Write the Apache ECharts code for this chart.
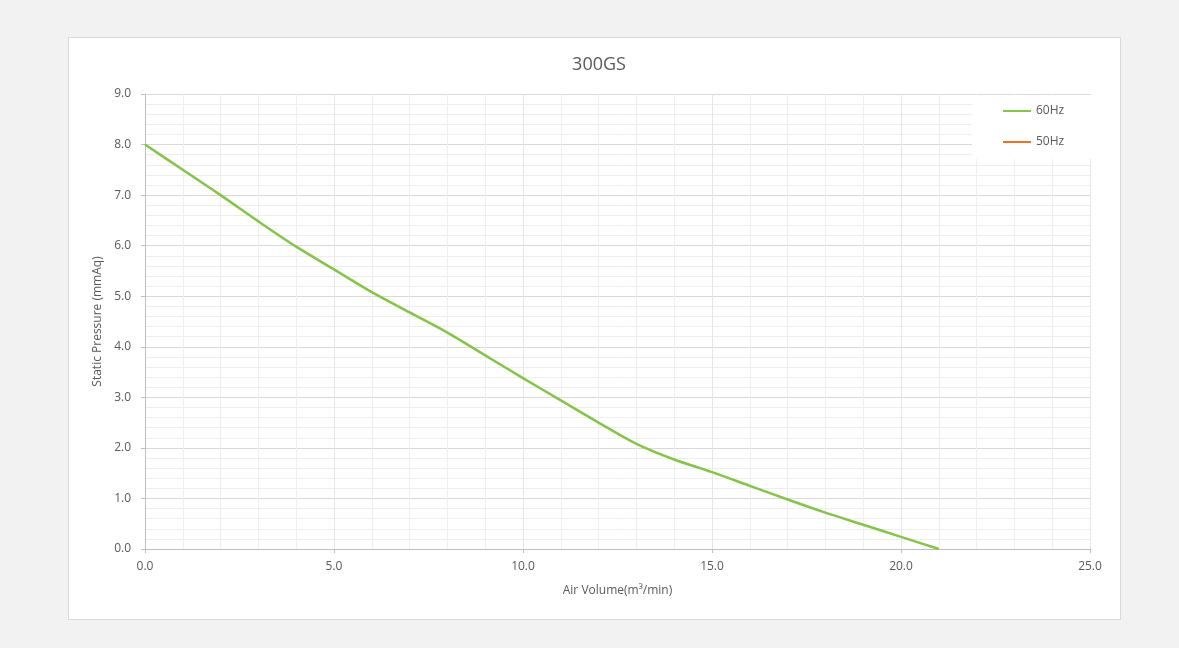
<!DOCTYPE html>
<html>
<head>
<meta charset="utf-8">
<script src="https://cdn.jsdelivr.net/npm/echarts@6/dist/echarts.min.js"></script>
<style>
html,body{margin:0;padding:0;background:#f2f2f2;width:1179px;height:648px;overflow:hidden;}
#panel{position:absolute;left:68px;top:37px;width:1051px;height:581px;background:#fff;border:1px solid #d9d9d9;}
#chart{position:absolute;left:0;top:0;width:1179px;height:648px;}
</style>
</head>
<body>
<div id="panel"></div>
<div id="chart"></div>
<script>
const titleText = '300GS';
const seriesNames = ['60Hz', '50Hz'];
const airVolume60 = [0, 1, 2, 3, 4, 5, 6, 7, 8, 9, 10, 11, 12, 13, 14, 15, 16, 17, 18, 19, 20, 21];
const pressure60 = [8.0, 7.5, 7.0, 6.48, 5.98, 5.53, 5.08, 4.68, 4.28, 3.83, 3.38, 2.94, 2.5, 2.08, 1.77, 1.52, 1.25, 0.98, 0.72, 0.48, 0.24, 0.0];
const pressure50 = [];
const xAxisName = 'Air Volume(m³/min)';
const yAxisName = 'Static Pressure (mmAq)';

const chart = echarts.init(document.getElementById('chart'), null, {renderer: 'canvas'});
const fontFamily = '"Open Sans", "Noto Sans", sans-serif';
const labelColor = '#595959';

chart.setOption({
  backgroundColor: 'transparent',
  animation: false,
  textStyle: {fontFamily: fontFamily},
  title: {
    text: titleText,
    left: 594,
    textAlign: 'center',
    top: 51,
    textStyle: {fontSize: 18, fontWeight: 'normal', color: labelColor, fontFamily: fontFamily}
  },
  legend: {
    orient: 'vertical',
    left: 972,
    top: 95,
    backgroundColor: '#ffffff',
    padding: [8, 30, 9, 31],
    itemGap: 15,
    itemWidth: 28,
    itemHeight: 2,
    icon: 'rect',
    textStyle: {fontSize: 12, color: labelColor, fontFamily: fontFamily, lineHeight: 16},
    data: seriesNames
  },
  grid: {left: 145, right: 89, top: 94, bottom: 99, containLabel: false},
  xAxis: {
    type: 'value',
    min: 0, max: 25, interval: 5,
    name: xAxisName,
    nameLocation: 'middle',
    nameGap: 36,
    nameTextStyle: {fontSize: 12, color: labelColor},
    axisLine: {show: true, onZero: false, lineStyle: {color: '#bfbfbf', width: 1}},
    axisTick: {show: true, length: 4, lineStyle: {color: '#bfbfbf'}},
    axisLabel: {fontSize: 12, color: labelColor, margin: 12, formatter: v => v.toFixed(1)},
    splitLine: {show: true, lineStyle: {color: '#e6e6e6', width: 1}},
    minorTick: {show: false, splitNumber: 5},
    minorSplitLine: {show: true, lineStyle: {color: '#efefef', width: 1}}
  },
  yAxis: {
    type: 'value',
    min: 0, max: 9, interval: 1,
    name: yAxisName,
    nameLocation: 'middle',
    nameGap: 40,
    nameTextStyle: {fontSize: 12, color: labelColor},
    axisLine: {show: true, lineStyle: {color: '#bfbfbf', width: 1}},
    axisTick: {show: true, length: 4, lineStyle: {color: '#bfbfbf'}},
    axisLabel: {fontSize: 12, color: labelColor, margin: 14, formatter: v => v.toFixed(1)},
    splitLine: {show: true, lineStyle: {color: '#d9d9d9', width: 1}},
    minorTick: {show: false, splitNumber: 5},
    minorSplitLine: {show: true, lineStyle: {color: '#eeeeee', width: 1}}
  },
  series: [
    {
      name: seriesNames[0],
      type: 'line',
      data: airVolume60.map((x, i) => [x, pressure60[i]]),
      smooth: 0.3,
      symbol: 'none',
      lineStyle: {color: '#84c548', width: 2.5},
      itemStyle: {color: '#84c548'}
    },
    {
      name: seriesNames[1],
      type: 'line',
      data: pressure50,
      symbol: 'none',
      lineStyle: {color: '#f2711c', width: 2.5},
      itemStyle: {color: '#f2711c'}
    }
  ]
});
</script>
</body>
</html>
